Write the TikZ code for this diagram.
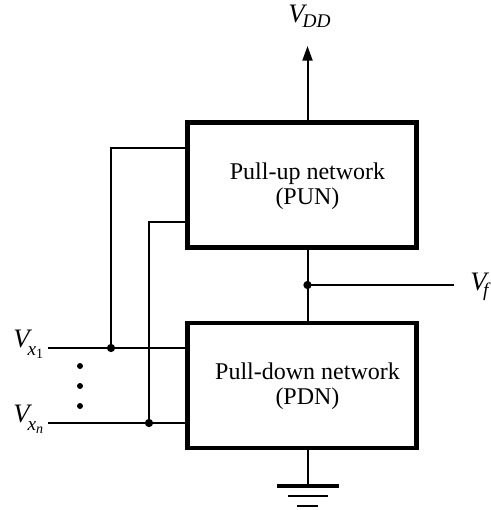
\documentclass[tikz,border=0pt]{standalone}
\usepackage{fontspec}
\setmainfont{Liberation Serif}
\usetikzlibrary{arrows.meta}
\newcommand{\subA}[2]{\kern-1.5pt\raisebox{-#1pt}{\fontsize{14.5}{15}\selectfont #2}}
\tikzset{x=0.75pt,y=-0.75pt,
 blk/.style={draw,line width=3.4pt,minimum width=172.1pt,minimum height=93.75pt,inner sep=0pt},
 caption/.style={align=center,inner sep=0pt,font=\fontsize{18}{18.75}\selectfont},
 wire/.style={line width=1.5pt},
 lbl/.style={inner sep=0pt,anchor=base west,font=\fontsize{20}{20}\selectfont\itshape},
 dot/.style={circle,fill=black,inner sep=0pt,minimum size=6.2pt},
 smalldot/.style={circle,fill=black,inner sep=0pt,minimum size=4.5pt}}
\begin{document}
\begin{tikzpicture}
\useasboundingbox (0,0) rectangle (490,510);
\node[blk] (pun) at (302,185) {};
\node[blk] (pdn) at (302,385.5) {};
\node[caption] (punt) at (307.5,186.5) {Pull-up network\\(PUN)};
\node[caption] (pdnt) at (307.5,386.5) {Pull-down network\\(PDN)};
\coordinate (vdd) at (307.5,46);
\coordinate (j) at (307.5,285);
\coordinate (vfe) at (454,285);
\coordinate (g) at (307.5,486);
\draw[wire,-{Triangle[length=11pt,width=7.5pt]}] (vdd |- pun.north) -- (vdd);
\node[lbl] (vddl) at (288,23) {V\subA{3.75}{DD}};
\draw[wire] (j |- pun.south) -- (j |- pdn.north);
\draw[wire] (j) -- (vfe);
\node[dot] (jd) at (j) {};
\node[lbl] (vf) at (470,290) {V\kern-1pt\subA{4.5}{f}};
\coordinate (x1) at (48,348);
\coordinate (xn) at (48,423);
\coordinate (t1) at (111,148);
\coordinate (tn) at (149,222);
\node[dot] (d1) at (111,348) {};
\node[dot] (dn) at (149,423) {};
\draw[wire] (x1) -- (x1 -| pdn.west);
\draw[wire] (xn) -- (xn -| pdn.west);
\draw[wire] (d1) -- (t1) -- (t1 -| pun.west);
\draw[wire] (dn) -- (tn) -- (tn -| pun.west);
\node[lbl] (v1) at (13,347) {V\subA{6}{x\raisebox{-2.5pt}{\fontsize{10.5}{11}\selectfont\upshape 1}}};
\node[lbl] (vn) at (13,422) {V\subA{6}{x\raisebox{-2.5pt}{\fontsize{10.5}{11}\selectfont n}}};
\node[smalldot] (e1) at (80,366) {};
\node[smalldot] (e2) at (80,386) {};
\node[smalldot] (e3) at (80,406) {};
\draw[wire] (g |- pdn.south) -- (g);
\draw[line width=3pt] (277,486) -- (339,486);
\draw[line width=1.7pt] (288,496) -- (328,496);
\draw[line width=1.5pt] (297,505.5) -- (318,505.5);
\end{tikzpicture}
\end{document}
